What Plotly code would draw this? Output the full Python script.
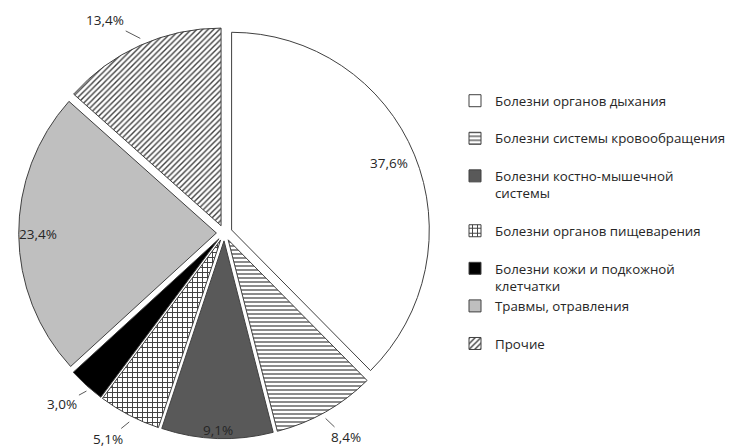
import math
import plotly.graph_objects as go

categories = [
    "Болезни органов дыхания",
    "Болезни системы кровообращения",
    "Болезни костно-мышечной<br>системы",
    "Болезни органов пищеварения",
    "Болезни кожи и подкожной<br>клетчатки",
    "Травмы, отравления",
    "Прочие",
]
values = [37.6, 8.4, 9.1, 5.1, 3.0, 23.4, 13.4]

# ---- styling ----
W, H = 730, 448
PULL = 0.04
DOM_X = [0.0266, 0.6106]
DOM_Y = [0.004, 0.956]
fill_colors = ["#ffffff", "#ffffff", "#595959", "#ffffff", "#000000", "#bfbfbf", "#ffffff"]
pattern_shapes = ["", "-", "", "+", "", "", "/"]
pattern_fg = ["#404040", "#595959", "#404040", "#404040", "#404040", "#404040", "#404040"]
pattern_size = [5, 4, 5, 5, 5, 5, 4]
label_mode = ["in", "out", "in", "out", "out", "in", "out"]
inside_frac = [0.86, 0, 0.92, 0, 0, 0.90, 0]          # radial position of inside labels
outside_off = [(0, 0), (20, 19), (0, 0), (-21, 17), (-24, 13), (0, 0), (-35, -18)]  # px offset of outside labels
label_font = dict(family="Open Sans", size=13.5, color="#262626")

# legend spacing padding (invisible extra line)
pad = ["<br> ", "<br> ", "<br> ", "<br> ", "", "<br> ", ""]
legend_labels = [c + p for c, p in zip(categories, pad)]

fig = go.Figure(go.Pie(
    labels=legend_labels,
    values=values,
    sort=False,
    direction="clockwise",
    rotation=0,
    pull=PULL,
    textinfo="none",
    marker=dict(
        colors=fill_colors,
        line=dict(color="#404040", width=1),
        pattern=dict(shape=pattern_shapes, fgcolor=pattern_fg, bgcolor=fill_colors,
                     size=pattern_size, solidity=0.35),
    ),
    domain=dict(x=DOM_X, y=DOM_Y),
    hoverinfo="skip",
))

# geometry of the pie as plotly lays it out (no outside text -> no rescaling)
wpx = W * (DOM_X[1] - DOM_X[0])
hpx = H * (DOM_Y[1] - DOM_Y[0])
r = min(wpx, hpx) / (2 * (1 + PULL))
cx = W * (DOM_X[0] + DOM_X[1]) / 2
cy = H * (1 - (DOM_Y[0] + DOM_Y[1]) / 2)
total = sum(values)

annotations = []
cum = 0.0
for i, v in enumerate(values):
    theta = 2 * math.pi * (cum + v / 2) / total
    cum += v
    dx, dy = math.sin(theta), -math.cos(theta)
    pcx, pcy = cx + PULL * r * dx, cy + PULL * r * dy
    txt = f"{v:.1f}".replace(".", ",") + "%"
    if label_mode[i] == "in":
        px, py = pcx + inside_frac[i] * r * dx, pcy + inside_frac[i] * r * dy
        annotations.append(dict(x=px / W, y=1 - py / H, xref="paper", yref="paper",
                                xanchor="center", yanchor="middle",
                                text=txt, showarrow=False, font=label_font))
    else:
        px, py = pcx + r * dx, pcy + r * dy
        ax, ay = outside_off[i]
        annotations.append(dict(x=px / W, y=1 - py / H, xref="paper", yref="paper",
                                text=txt, showarrow=True, arrowhead=0, arrowwidth=1,
                                arrowcolor="#595959", ax=ax, ay=ay, standoff=0,
                                font=label_font))

fig.update_layout(
    width=W, height=H,
    margin=dict(l=0, r=0, t=0, b=0),
    paper_bgcolor="white",
    font=dict(family="Open Sans", size=13, color="#262626"),
    annotations=annotations,
    legend=dict(x=0.6465, y=0.809, xanchor="left", yanchor="top",
                valign="top", font=dict(size=13.3), itemwidth=30,
                bgcolor="rgba(0,0,0,0)"),
    showlegend=True,
)

fig.write_html("out.html", config={"displayModeBar": False},
               post_script="document.body.style.margin='0';document.body.style.overflow='hidden';")
